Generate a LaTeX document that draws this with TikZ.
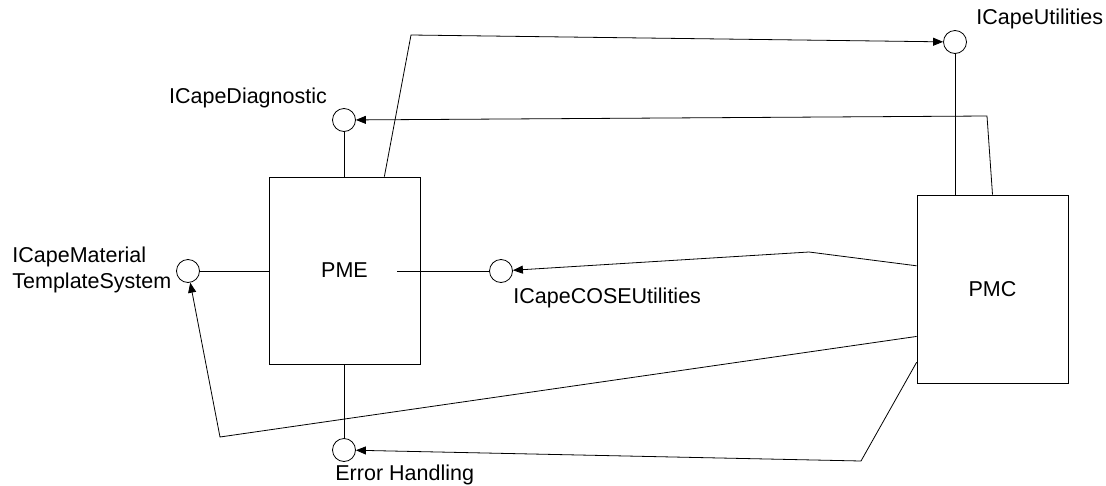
\documentclass[tikz,border=0pt]{standalone}
\usepackage{fontspec}
\setmainfont{Liberation Sans}
\usetikzlibrary{arrows.meta}

\begin{document}
\begin{tikzpicture}[x=1pt,y=-1pt,line width=0.8pt,
  font=\fontsize{21.5}{26}\selectfont,
  comp/.style={draw,rectangle,minimum width=151pt,minimum height=187pt,inner sep=0pt},
  port/.style={draw,circle,minimum size=23pt,inner sep=0pt},
  lbl/.style={inner sep=0pt},
  call/.style={-{Triangle[length=10pt,width=8pt]}}]
  \useasboundingbox (0,0) rectangle (1106,485);
  % components
  \node[comp] (pme) at (344.5,270.5) {PME};
  \node[comp,minimum height=188pt] (pmc) at (992.5,289) {PMC};
  \coordinate (pmeport) at (397,271);
  % interfaces
  \node[port] (util) at (955,42) {};
  \node[port] (diag) at (344,120) {};
  \node[port] (mat)  at (188,271) {};
  \node[port] (cose) at (501,271) {};
  \node[port] (err)  at (344,450) {};
  % interface names
  \node[lbl,anchor=base west] (utillbl) at (976,24) {ICapeUtilities};
  \node[lbl,anchor=base] (diaglbl) at (248,103) {ICapeDiagnostic};
  \node[lbl,anchor=west,align=left] (matlbl) at (12,270) {ICapeMaterial\\TemplateSystem};
  \node[lbl,anchor=base west] (coselbl) at (513,303) {ICapeCOSEUtilities};
  \node[lbl,anchor=base west] (errlbl) at (335,480) {Error Handling};
  % exposed interfaces
  \draw (util) -- (util |- pmc.north);
  \draw (diag) -- (diag |- pme.north);
  \draw (mat) -- (mat -| pme.west);
  \draw (err) -- (err |- pme.south);
  \draw (cose) -- (pmeport);
  % calls
  \draw[call] (pme.67) -- (411,35) -- (util);
  \draw[call] (pmc.north) -- (987,116) -- (diag);
  \draw[call] (pmc.163) -- (809,252) -- (cose);
  \draw[call] (pmc.212) -- (220,437) -- (mat);
  \draw[call] (pmc.224) -- (861,461) -- (err);
\end{tikzpicture}
\end{document}
